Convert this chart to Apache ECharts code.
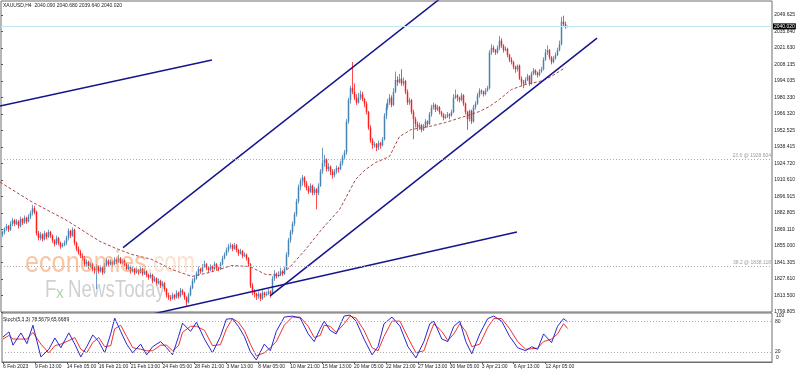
<!DOCTYPE html>
<html><head><meta charset="utf-8">
<script src="https://cdn.jsdelivr.net/npm/echarts@6/dist/echarts.min.js"></script>
<style>html,body{margin:0;padding:0;background:#fff}#c{width:798px;height:372px}</style>
</head><body><div id="c"></div>
<script>
// ---------- DATA ----------
const xTickLabels = ['6 Feb 2023','9 Feb 13:00','14 Feb 05:00','16 Feb 21:00','21 Feb 13:00','24 Feb 05:00','28 Feb 21:00','3 Mar 13:00','8 Mar 05:00','10 Mar 21:00','15 Mar 13:00','20 Mar 05:00','22 Mar 21:00','27 Mar 13:00','30 Mar 05:00','3 Apr 21:00','6 Apr 13:00','12 Apr 05:00'];
const priceTickLabels = ['1799.805','1813.500','1827.610','1841.305','1855.000','1869.110','1882.805','1896.915','1910.610','1924.720','1938.415','1952.525','1966.320','1980.330','1994.035','2008.135','2021.630','2035.840','2049.625'];

const opens = [1865,
1867,1870,1872,1869,1874,1877, 1874,1876,1872,1878,1875,1879, 1876,1880,1883,1887,1884,1866,
1862,1865,1861,1866,1863,1867, 1864,1860,1857,1862,1858,1855, 1856,1858,1862,1868,1864,1869,
1858,1853,1850,1847,1845,1840, 1842,1838,1840,1836,1835,1838, 1834,1837,1833,1839,1843,1840,
1842,1840,1844,1842,1845,1841, 1843,1840,1836,1838,1834,1836, 1833,1835,1833,1836,1832,1834,
1831,1829,1831,1826,1828,1824, 1826,1822,1824,1819,1814,1812, 1811,1814,1812,1816,1813,1818,
1816,1812,1808,1814,1820,1826, 1828,1832,1836,1834,1838,1840, 1837,1835,1838,1836,1840,1837,
1836,1840,1845,1848,1852,1855, 1856,1853,1856,1852,1849,1851, 1847,1848,1845,1840,1822,1817,
1815,1813,1815,1811,1816,1814, 1815,1817,1815,1828,1832,1830, 1831,1834,1832,1836,1848,1860,
1867,1874,1882,1893,1905,1910, 1913,1908,1904,1901,1906,1900, 1903,1900,1906,1918,1925,1928,
1920,1922,1918,1915,1918,1921, 1920,1925,1930,1934,1960,1978, 1988,1985,1980,1976,1980,1983,
1979,1975,1968,1955,1944,1940, 1941,1938,1942,1940,1945,1965, 1972,1976,1980,1974,1985,1995,
1993,1996,1992,1994,1985,1976, 1978,1968,1962,1958,1955,1957, 1953,1956,1960,1958,1966,1972,
1974,1970,1972,1968,1966,1963, 1964,1966,1965,1968,1980,1982, 1980,1978,1982,1975,1968,1962,
1969,1960,1972,1975,1982,1986, 1985,1983,1986,1988,2018,2022, 2020,2018,2022,2028,2024,2020,
2021,2016,2012,2010,2006,2004, 2007,1996,1993,1992,1995,1998, 1992,2000,2003,2001,1999,2002,
2004,2012,2018,2020,2014,2010, 2013,2016,2020,2025,2044,2042, 2040.09];
const highs = [1868,
1871,1874,1873,1876,1879,1878, 1878,1877,1880,1879,1881,1880, 1882,1885,1890,1889,1885,1868,
1867,1866,1868,1867,1869,1868, 1865,1861,1864,1863,1859,1858, 1860,1864,1870,1869,1871,1870,
1859,1855,1852,1849,1847,1844, 1843,1842,1841,1838,1840,1839, 1839,1838,1841,1845,1844,1844,
1843,1846,1845,1848,1846,1844, 1844,1841,1840,1839,1838,1837, 1837,1836,1838,1837,1836,1835,
1832,1833,1832,1830,1829,1828, 1827,1826,1825,1820,1816,1814, 1816,1815,1818,1817,1820,1819,
1817,1813,1816,1822,1828,1830, 1834,1838,1837,1840,1843,1841, 1838,1840,1839,1842,1841,1838,
1842,1847,1850,1854,1857,1858, 1857,1858,1857,1853,1853,1852, 1850,1849,1846,1841,1824,1819,
1816,1817,1816,1818,1817,1817, 1819,1818,1830,1835,1833,1834, 1837,1835,1838,1850,1862,1869,
1876,1884,1895,1907,1912,1915, 1914,1910,1906,1908,1907,1905, 1904,1908,1920,1938,1932,1929,
1925,1923,1920,1920,1923,1922, 1927,1932,1936,1962,1980,1990, 2010,1992,1983,1984,1986,1985,
1980,1977,1969,1957,1946,1943, 1942,1944,1943,1947,1967,1975, 1979,1983,1982,1988,2002,1998,
2000,2004,1997,1995,1987,1980, 1979,1970,1964,1960,1959,1958, 1958,1962,1961,1968,1974,1976,
1975,1974,1973,1969,1967,1966, 1968,1967,1970,1983,1987,1983, 1981,1984,1983,1976,1969,1970,
1970,1974,1977,1984,1988,1987, 1986,1988,1990,2020,2025,2024, 2021,2024,2032,2030,2025,2023,
2022,2017,2014,2011,2007,2008, 2008,1998,1995,1997,2000,1999, 2002,2005,2004,2002,2004,2006,
2014,2021,2024,2021,2015,2015, 2018,2022,2028,2048,2049,2044, 2040.68];
const lows = [1863,
1865,1868,1867,1868,1872,1872, 1873,1870,1871,1873,1874,1874, 1875,1878,1881,1882,1864,1860,
1860,1859,1860,1861,1862,1862, 1858,1855,1856,1856,1853,1854, 1855,1856,1860,1862,1863,1856,
1851,1848,1845,1843,1838,1838, 1836,1837,1834,1832,1819,1832, 1833,1831,1832,1838,1838,1839,
1838,1839,1840,1841,1840,1840, 1838,1835,1835,1832,1833,1831, 1832,1831,1832,1830,1831,1829,
1827,1828,1824,1825,1822,1823, 1820,1821,1817,1812,1810,1809, 1810,1810,1811,1811,1812,1814,
1810,1805,1807,1813,1819,1824, 1827,1830,1832,1833,1837,1835, 1833,1834,1834,1835,1835,1834,
1835,1839,1844,1847,1850,1853, 1851,1852,1850,1847,1848,1845, 1846,1843,1838,1820,1814,1812,
1810,1811,1809,1810,1812,1813, 1814,1812,1814,1826,1828,1829, 1830,1830,1831,1835,1846,1858,
1865,1872,1880,1891,1902,1906, 1905,1902,1899,1900,1898,1898, 1886,1898,1905,1916,1922,1918,
1918,1915,1912,1913,1916,1917, 1919,1923,1928,1932,1958,1975, 1983,1978,1974,1975,1978,1977,
1972,1966,1953,1942,1937,1938, 1935,1936,1937,1939,1944,1962, 1970,1974,1972,1973,1984,1990,
1992,1990,1990,1983,1974,1974, 1966,1945,1955,1952,1953,1951, 1952,1955,1955,1957,1964,1970,
1968,1969,1966,1964,1961,1962, 1963,1962,1964,1967,1979,1977, 1976,1977,1973,1966,1953,1960,
1958,1959,1970,1974,1980,1983, 1981,1982,1985,1987,2016,2018, 2016,2017,2020,2022,2018,2019,
2014,2010,2008,2004,2001,2002, 1995,1990,1988,1991,1994,1990, 1991,1999,1999,1997,1998,2001,
2003,2011,2016,2012,2008,2009, 2012,2015,2019,2024,2040,2038, 2039.64];
const closes = [1867,
1870,1872,1869,1874,1877,1874, 1876,1872,1878,1875,1879,1876, 1880,1883,1887,1884,1866,1862,
1865,1861,1866,1863,1867,1864, 1860,1857,1862,1858,1855,1856, 1858,1862,1868,1864,1869,1858,
1853,1850,1847,1845,1840,1842, 1838,1840,1836,1835,1838,1834, 1837,1833,1839,1843,1840,1842,
1840,1844,1842,1845,1841,1843, 1840,1836,1838,1834,1836,1833, 1835,1833,1836,1832,1834,1831,
1829,1831,1826,1828,1824,1826, 1822,1824,1819,1814,1812,1811, 1814,1812,1816,1813,1818,1816,
1812,1808,1814,1820,1826,1828, 1832,1836,1834,1838,1840,1837, 1835,1838,1836,1840,1837,1836,
1840,1845,1848,1852,1855,1856, 1853,1856,1852,1849,1851,1847, 1848,1845,1840,1822,1817,1815,
1813,1815,1811,1816,1814,1815, 1817,1815,1828,1832,1830,1831, 1834,1832,1836,1848,1860,1867,
1874,1882,1893,1905,1910,1913, 1908,1904,1901,1906,1900,1903, 1900,1906,1918,1925,1928,1920,
1922,1918,1915,1918,1921,1920, 1925,1930,1934,1960,1978,1988, 1985,1980,1976,1980,1983,1979,
1975,1968,1955,1944,1940,1941, 1938,1942,1940,1945,1965,1972, 1976,1980,1974,1985,1995,1993,
1996,1992,1994,1985,1976,1978, 1968,1962,1958,1955,1957,1953, 1956,1960,1958,1966,1972,1974,
1970,1972,1968,1966,1963,1964, 1966,1965,1968,1980,1982,1980, 1978,1982,1975,1968,1962,1969,
1960,1972,1975,1982,1986,1985, 1983,1986,1988,2018,2022,2020, 2018,2022,2028,2024,2020,2021,
2016,2012,2010,2006,2004,2007, 1996,1993,1992,1995,1998,1992, 2000,2003,2001,1999,2002,2004,
2012,2018,2020,2014,2010,2013, 2016,2020,2025,2044,2042,2040.1, 2040.02];

// moving average (read at sample bars)
const maBars   = [-1,15,32,49,57,65,75,85,95,104,115,124,132,139,144,152,160,169,177,182,187,194,199,205,214,222,230,239,244,249,255,262,269,275,282];
const maValues = [1909.0,1892.4,1877.2,1859.2,1853.3,1848.2,1844.0,1835.6,1829.7,1833.1,1838.9,1838.1,1831.4,1830.6,1837.3,1852.4,1869.2,1886.0,1911.2,1919.6,1925.5,1930.5,1947.4,1953.3,1955.8,1959.2,1963.4,1968.4,1972.6,1978.5,1986.9,1991.1,1993.6,1997.8,2005.4];

// stochastic (5,3,3): main (blue) and signal (red), read at sample bars
const stochBars   = [0,3,5,9,12,15,19,23,26,29,33,36,39,42,45,48,51,54,56,59,62,65,69,72,75,79,82,85,88,90,94,97,101,105,109,112,115,118,121,124,127,131,134,137,141,145,149,153,156,159,161,164,167,171,174,177,181,185,188,191,195,199,203,207,211,214,216,220,223,226,229,232,235,239,243,246,250,254,258,262,265,268,271,275,278,281,283];
const stochMain   = [49,59,33,57,36,72,10,25,47,28,57,35,10,30,53,40,18,55,86,60,35,18,35,14,30,40,28,14,50,76,60,78,45,18,50,84,85,70,50,20,4,35,22,60,88,90,86,55,40,65,80,62,55,90,92,80,45,14,30,75,88,70,30,8,40,75,80,45,40,70,80,40,16,55,85,90,80,50,28,22,30,25,55,38,70,85,78.57];
const stochSignal = [45,52,45,45,45,58,35,18,32,35,42,48,25,18,38,48,30,32,65,72,50,28,25,22,22,33,33,22,32,58,70,70,62,32,34,65,85,78,62,35,12,18,28,40,72,88,88,70,48,52,72,70,58,75,90,86,62,28,22,50,80,80,48,18,22,55,75,60,42,55,75,60,30,35,68,85,85,65,40,25,26,27,40,45,55,75,65.67];

const fibNames  = ['23.6','38.2'];
const fibPrices = [1928.604, 1838.118];
const lastPrice = 2040.02;
const headerText = 'XAUUSD,H4  2040.090 2040.680 2039.640 2040.020';
const stochText = 'Stoch(5,3,3) 78.5679 65.6689';

// trend lines: [barIndex, price] endpoints
const trendLines = [
  [[-1.0, 1973.1], [105.1, 2011.7]],
  [[60.6, 1853.96], [230.3, 2077.8]],
  [[134.2, 1813.3], [297.9, 2030.2]],
  [[70.1, 1796.1], [257.8, 1867.1]]
];

// ---------- CHART ----------
const NS = 386;
const PMIN = 1799.805, PPX = 0.841;
const PMAX = PMIN + 311 * PPX;
const BULL = '#4682B4', BEAR = '#FF1E1E';
const cats = Array.from({length: NS}, (_, i) => i);
const candleData = opens.map((o, i) => [i, o, closes[i], lows[i], highs[i]]);
const FONT = 'Liberation Sans';
const pairs = (a, b) => a.map((x, i) => [x, b[i]]);
const tickOk = i => i % 16 === 0 && i / 16 < xTickLabels.length;
const lblY = v => 312 - (v - PMIN) / PPX;

const chart = echarts.init(document.getElementById('c'), null, {renderer: 'canvas'});
const navy = '#14148C';

function renderCandle(params, api) {
  const i = api.value(0), o = api.value(1), c = api.value(2), l = api.value(3), h = api.value(4);
  const pO = api.coord([i, o]), pC = api.coord([i, c]), pL = api.coord([i, l]), pH = api.coord([i, h]);
  const x = Math.round(pO[0]) + 0.5;
  const col = c >= o ? BULL : BEAR;
  const top = Math.min(pO[1], pC[1]), bot = Math.max(pO[1], pC[1]);
  return {type: 'group', children: [
    {type: 'line', shape: {x1: x, y1: pH[1], x2: x, y2: pL[1]}, style: {stroke: col, lineWidth: 1, opacity: 0.8}},
    {type: 'rect', shape: {x: x - 0.75, y: top, width: 1.5, height: Math.max(1, bot - top)}, style: {fill: col}}
  ]};
}

const series = [
  {type: 'custom', xAxisIndex: 0, yAxisIndex: 0, data: candleData, renderItem: renderCandle, clip: true,
   encode: {x: 0, y: [1, 2, 3, 4]}, z: 2},
  {type: 'line', xAxisIndex: 2, yAxisIndex: 0, data: pairs(maBars, maValues), symbol: 'none', smooth: false,
   lineStyle: {color: '#A84848', width: 1, type: [3, 2]}, z: 3,
   markLine: {
      silent: true, symbol: ['none', 'none'], animation: false,
      data: [
        {yAxis: lastPrice, lineStyle: {color: '#BDE6EE', type: 'solid', width: 1},
         label: {show: true, position: 'end', distance: 1, formatter: lastPrice.toFixed(3), backgroundColor: '#000', color: '#fff', fontSize: 5, fontFamily: FONT, padding: [1, 1, 0, 1]}},
        ...fibPrices.map((p, k) => ({yAxis: p, lineStyle: {color: '#B0B0B0', type: [1, 2], width: 1},
          label: {show: true, position: 'insideEndTop', distance: 1, formatter: fibNames[k] + ' @ ' + p.toFixed(3), color: '#A0A0A0', fontSize: 5, fontFamily: FONT}}))
      ]
   }},
  ...trendLines.map(tl => ({type: 'line', xAxisIndex: 2, yAxisIndex: 0, data: tl, symbol: 'none', clip: true,
    lineStyle: {color: navy, width: 1.5}, z: 4})),
  {type: 'line', xAxisIndex: 3, yAxisIndex: 1, data: pairs(stochBars, stochSignal), symbol: 'none', lineStyle: {color: '#F03030', width: 1},
   markLine: {silent: true, symbol: ['none', 'none'], label: {show: false}, lineStyle: {color: '#B0B0B0', type: [1, 2], width: 1}, data: [{yAxis: 80}, {yAxis: 20}]}},
  {type: 'line', xAxisIndex: 3, yAxisIndex: 1, data: pairs(stochBars, stochMain), symbol: 'none', lineStyle: {color: '#2828D0', width: 1}}
];

const wmFont = (s) => s + 'px "Liberation Sans"';
const option = {
  animation: false,
  backgroundColor: '#fff',
  grid: [
    {left: 1, top: 1, width: 771, height: 311, show: true, borderColor: '#6e6e6e', borderWidth: 1},
    {left: 1, top: 313, width: 771, height: 49, show: true, borderColor: '#6e6e6e', borderWidth: 1},
    {left: 1, top: lblY(2049.625), width: 771, height: 312 - lblY(2049.625), show: false}
  ],
  xAxis: [
    {type: 'category', gridIndex: 0, data: cats, show: false},
    {type: 'category', gridIndex: 1, data: cats, position: 'bottom',
     axisLine: {show: true, lineStyle: {color: '#6e6e6e'}},
     axisTick: {show: true, alignWithLabel: true, interval: tickOk, length: 2, lineStyle: {color: '#555'}},
     axisLabel: {interval: tickOk, formatter: (v, i) => xTickLabels[i / 16] || '', align: 'left', fontSize: 5, fontFamily: FONT, color: '#222', margin: 2},
     splitLine: {show: false}},
    {type: 'value', gridIndex: 0, min: -0.5, max: NS - 0.5, show: false},
    {type: 'value', gridIndex: 1, min: -0.5, max: NS - 0.5, show: false},
    {type: 'value', gridIndex: 2, show: false}
  ],
  yAxis: [
    {type: 'value', gridIndex: 0, min: PMIN, max: PMAX, show: false},
    {type: 'value', gridIndex: 1, min: 0, max: 96, interval: 20, position: 'right',
     axisLine: {show: false}, axisTick: {show: false}, splitLine: {show: false},
     axisLabel: {formatter: v => (v === 80 || v === 20) ? String(v) : '', fontSize: 5, fontFamily: FONT, color: '#222', margin: 3}},
    {type: 'category', gridIndex: 2, data: priceTickLabels, boundaryGap: false, position: 'right',
     axisLine: {show: false}, axisTick: {show: true, length: 2, lineStyle: {color: '#555'}}, splitLine: {show: false},
     axisLabel: {fontSize: 5, fontFamily: FONT, color: '#222', margin: 3}}
  ],
  graphic: [
    {type: 'text', left: 3, top: 3, style: {text: headerText, font: '5px "Liberation Sans"', fill: '#222'}},
    {type: 'text', left: 3, top: 317.5, style: {text: stochText, font: '5px "Liberation Sans"', fill: '#222'}},
    {type: 'text', left: 776, top: 313.5, style: {text: '100', font: '5px "Liberation Sans"', fill: '#222'}},
    {type: 'text', left: 776, top: 355, style: {text: '0', font: '5px "Liberation Sans"', fill: '#222'}},
    {type: 'text', x: 25, y: 249, scaleX: 0.84, z: 100, style: {text: 'economies', font: wmFont(30), fill: 'rgba(244,150,90,0.55)'}},
    {type: 'text', x: 147, y: 249, scaleX: 0.74, z: 100, style: {text: '.com', font: wmFont(30), fill: 'rgba(244,170,120,0.35)'}},
    {type: 'text', x: 45, y: 278, scaleX: 0.78, z: 100, style: {text: 'F', font: wmFont(24), fill: 'rgba(150,150,150,0.45)'}},
    {type: 'text', x: 56, y: 285, scaleX: 0.9, z: 100, style: {text: 'x', font: wmFont(17), fill: 'rgba(90,170,90,0.5)'}},
    {type: 'text', x: 68, y: 278, scaleX: 0.78, z: 100, style: {text: 'NewsToday', font: wmFont(24), fill: 'rgba(150,150,150,0.45)'}}
  ],
  series
};
chart.setOption(option);
</script>
</body></html>
